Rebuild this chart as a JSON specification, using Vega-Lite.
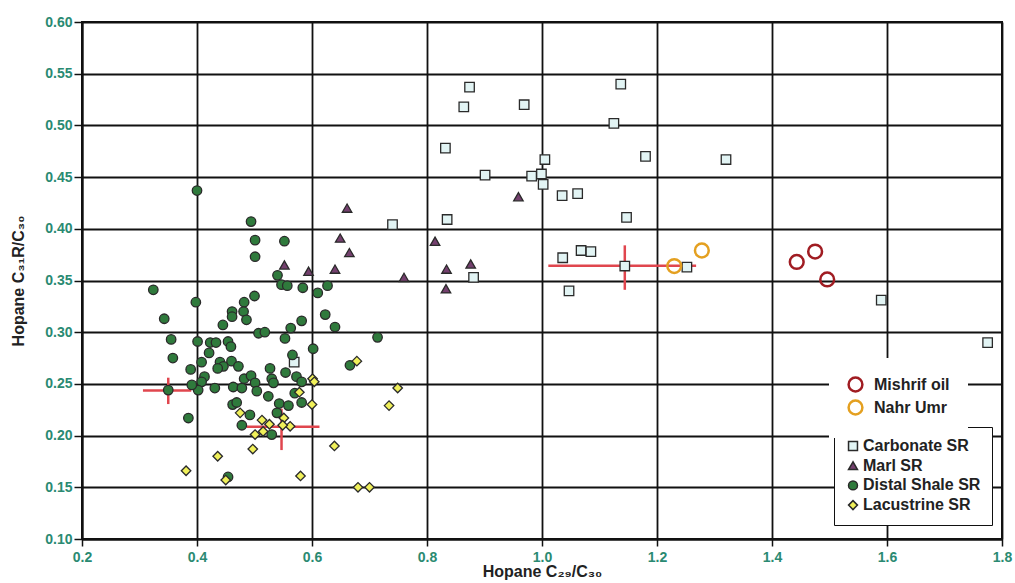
{
  "$schema": "https://vega.github.io/schema/vega-lite/v6.json",
  "width": 920,
  "height": 517,
  "autosize": {"type": "none"},
  "padding": {"left": 82, "top": 22, "right": 13, "bottom": 44},
  "background": "white",
  "config": {
    "font": "Liberation Sans",
    "view": {"stroke": "#111", "strokeWidth": 2},
    "axis": {
      "grid": true,
      "gridColor": "#111",
      "gridWidth": 1.8,
      "gridOpacity": 1,
      "domainColor": "#111",
      "domainWidth": 2,
      "tickColor": "#111",
      "tickWidth": 1.5,
      "labelFont": "Liberation Sans",
      "labelFontWeight": "bold",
      "labelFontSize": 14,
      "labelColor": "#2a8a72",
      "labelFlush": false,
      "titleFont": "Liberation Sans",
      "titleFontSize": 16,
      "titleFontWeight": "bold",
      "titleColor": "#222"
    },
    "axisX": {"tickSize": 7, "labelPadding": 4, "titlePadding": -1},
    "axisY": {"tickSize": 8, "labelPadding": 2, "titlePadding": 18},
    "legend": {
      "labelFont": "Liberation Sans", "labelFontWeight": "bold", "labelFontSize": 16, "labelColor": "#222"
    }
  },
  "datasets": {
    "errs": [
      {"x": 0.306, "x2": 0.390, "y": 0.2436, "y2": 0.2436},
      {"x": 0.350, "x2": 0.350, "y": 0.2305, "y2": 0.256},
      {"x": 0.486, "x2": 0.613, "y": 0.2086, "y2": 0.2086},
      {"x": 0.547, "x2": 0.547, "y": 0.186, "y2": 0.226},
      {"x": 1.011, "x2": 1.268, "y": 0.3643, "y2": 0.3643},
      {"x": 1.144, "x2": 1.144, "y": 0.341, "y2": 0.384}
    ],
    "samples": [
      {"x": 0.874, "y": 0.537, "type": "Carbonate SR"},
      {"x": 0.864, "y": 0.518, "type": "Carbonate SR"},
      {"x": 0.969, "y": 0.520, "type": "Carbonate SR"},
      {"x": 1.137, "y": 0.540, "type": "Carbonate SR"},
      {"x": 1.125, "y": 0.502, "type": "Carbonate SR"},
      {"x": 0.832, "y": 0.478, "type": "Carbonate SR"},
      {"x": 1.005, "y": 0.467, "type": "Carbonate SR"},
      {"x": 1.180, "y": 0.470, "type": "Carbonate SR"},
      {"x": 1.320, "y": 0.467, "type": "Carbonate SR"},
      {"x": 0.901, "y": 0.452, "type": "Carbonate SR"},
      {"x": 0.982, "y": 0.451, "type": "Carbonate SR"},
      {"x": 0.999, "y": 0.453, "type": "Carbonate SR"},
      {"x": 1.002, "y": 0.443, "type": "Carbonate SR"},
      {"x": 1.035, "y": 0.432, "type": "Carbonate SR"},
      {"x": 1.062, "y": 0.434, "type": "Carbonate SR"},
      {"x": 1.147, "y": 0.411, "type": "Carbonate SR"},
      {"x": 0.835, "y": 0.409, "type": "Carbonate SR"},
      {"x": 0.740, "y": 0.404, "type": "Carbonate SR"},
      {"x": 1.036, "y": 0.372, "type": "Carbonate SR"},
      {"x": 1.068, "y": 0.379, "type": "Carbonate SR"},
      {"x": 1.085, "y": 0.378, "type": "Carbonate SR"},
      {"x": 1.144, "y": 0.364, "type": "Carbonate SR"},
      {"x": 1.252, "y": 0.363, "type": "Carbonate SR"},
      {"x": 0.881, "y": 0.353, "type": "Carbonate SR"},
      {"x": 1.047, "y": 0.340, "type": "Carbonate SR"},
      {"x": 0.569, "y": 0.271, "type": "Carbonate SR"},
      {"x": 1.590, "y": 0.331, "type": "Carbonate SR"},
      {"x": 1.775, "y": 0.290, "type": "Carbonate SR"},
      {"x": 0.661, "y": 0.420, "type": "Marl SR"},
      {"x": 0.649, "y": 0.391, "type": "Marl SR"},
      {"x": 0.665, "y": 0.377, "type": "Marl SR"},
      {"x": 0.552, "y": 0.365, "type": "Marl SR"},
      {"x": 0.594, "y": 0.359, "type": "Marl SR"},
      {"x": 0.640, "y": 0.361, "type": "Marl SR"},
      {"x": 0.760, "y": 0.353, "type": "Marl SR"},
      {"x": 0.814, "y": 0.388, "type": "Marl SR"},
      {"x": 0.834, "y": 0.361, "type": "Marl SR"},
      {"x": 0.876, "y": 0.366, "type": "Marl SR"},
      {"x": 0.833, "y": 0.342, "type": "Marl SR"},
      {"x": 0.959, "y": 0.431, "type": "Marl SR"},
      {"x": 0.400, "y": 0.437, "type": "Distal Shale SR"},
      {"x": 0.494, "y": 0.407, "type": "Distal Shale SR"},
      {"x": 0.501, "y": 0.389, "type": "Distal Shale SR"},
      {"x": 0.501, "y": 0.373, "type": "Distal Shale SR"},
      {"x": 0.552, "y": 0.388, "type": "Distal Shale SR"},
      {"x": 0.540, "y": 0.355, "type": "Distal Shale SR"},
      {"x": 0.547, "y": 0.346, "type": "Distal Shale SR"},
      {"x": 0.557, "y": 0.345, "type": "Distal Shale SR"},
      {"x": 0.584, "y": 0.343, "type": "Distal Shale SR"},
      {"x": 0.610, "y": 0.338, "type": "Distal Shale SR"},
      {"x": 0.627, "y": 0.345, "type": "Distal Shale SR"},
      {"x": 0.324, "y": 0.341, "type": "Distal Shale SR"},
      {"x": 0.398, "y": 0.329, "type": "Distal Shale SR"},
      {"x": 0.500, "y": 0.335, "type": "Distal Shale SR"},
      {"x": 0.482, "y": 0.329, "type": "Distal Shale SR"},
      {"x": 0.343, "y": 0.313, "type": "Distal Shale SR"},
      {"x": 0.461, "y": 0.320, "type": "Distal Shale SR"},
      {"x": 0.461, "y": 0.315, "type": "Distal Shale SR"},
      {"x": 0.481, "y": 0.320, "type": "Distal Shale SR"},
      {"x": 0.486, "y": 0.312, "type": "Distal Shale SR"},
      {"x": 0.582, "y": 0.311, "type": "Distal Shale SR"},
      {"x": 0.623, "y": 0.317, "type": "Distal Shale SR"},
      {"x": 0.355, "y": 0.293, "type": "Distal Shale SR"},
      {"x": 0.358, "y": 0.275, "type": "Distal Shale SR"},
      {"x": 0.401, "y": 0.291, "type": "Distal Shale SR"},
      {"x": 0.445, "y": 0.307, "type": "Distal Shale SR"},
      {"x": 0.423, "y": 0.290, "type": "Distal Shale SR"},
      {"x": 0.433, "y": 0.290, "type": "Distal Shale SR"},
      {"x": 0.421, "y": 0.280, "type": "Distal Shale SR"},
      {"x": 0.454, "y": 0.291, "type": "Distal Shale SR"},
      {"x": 0.459, "y": 0.286, "type": "Distal Shale SR"},
      {"x": 0.408, "y": 0.271, "type": "Distal Shale SR"},
      {"x": 0.389, "y": 0.264, "type": "Distal Shale SR"},
      {"x": 0.440, "y": 0.271, "type": "Distal Shale SR"},
      {"x": 0.446, "y": 0.267, "type": "Distal Shale SR"},
      {"x": 0.436, "y": 0.265, "type": "Distal Shale SR"},
      {"x": 0.460, "y": 0.272, "type": "Distal Shale SR"},
      {"x": 0.472, "y": 0.267, "type": "Distal Shale SR"},
      {"x": 0.413, "y": 0.257, "type": "Distal Shale SR"},
      {"x": 0.408, "y": 0.252, "type": "Distal Shale SR"},
      {"x": 0.402, "y": 0.244, "type": "Distal Shale SR"},
      {"x": 0.391, "y": 0.249, "type": "Distal Shale SR"},
      {"x": 0.431, "y": 0.246, "type": "Distal Shale SR"},
      {"x": 0.463, "y": 0.247, "type": "Distal Shale SR"},
      {"x": 0.478, "y": 0.246, "type": "Distal Shale SR"},
      {"x": 0.482, "y": 0.255, "type": "Distal Shale SR"},
      {"x": 0.494, "y": 0.258, "type": "Distal Shale SR"},
      {"x": 0.501, "y": 0.251, "type": "Distal Shale SR"},
      {"x": 0.504, "y": 0.243, "type": "Distal Shale SR"},
      {"x": 0.507, "y": 0.299, "type": "Distal Shale SR"},
      {"x": 0.518, "y": 0.300, "type": "Distal Shale SR"},
      {"x": 0.553, "y": 0.294, "type": "Distal Shale SR"},
      {"x": 0.563, "y": 0.304, "type": "Distal Shale SR"},
      {"x": 0.640, "y": 0.305, "type": "Distal Shale SR"},
      {"x": 0.602, "y": 0.284, "type": "Distal Shale SR"},
      {"x": 0.566, "y": 0.278, "type": "Distal Shale SR"},
      {"x": 0.527, "y": 0.265, "type": "Distal Shale SR"},
      {"x": 0.554, "y": 0.261, "type": "Distal Shale SR"},
      {"x": 0.530, "y": 0.255, "type": "Distal Shale SR"},
      {"x": 0.533, "y": 0.251, "type": "Distal Shale SR"},
      {"x": 0.573, "y": 0.257, "type": "Distal Shale SR"},
      {"x": 0.582, "y": 0.252, "type": "Distal Shale SR"},
      {"x": 0.350, "y": 0.244, "type": "Distal Shale SR"},
      {"x": 0.385, "y": 0.217, "type": "Distal Shale SR"},
      {"x": 0.462, "y": 0.230, "type": "Distal Shale SR"},
      {"x": 0.469, "y": 0.232, "type": "Distal Shale SR"},
      {"x": 0.478, "y": 0.210, "type": "Distal Shale SR"},
      {"x": 0.492, "y": 0.220, "type": "Distal Shale SR"},
      {"x": 0.524, "y": 0.238, "type": "Distal Shale SR"},
      {"x": 0.543, "y": 0.231, "type": "Distal Shale SR"},
      {"x": 0.559, "y": 0.229, "type": "Distal Shale SR"},
      {"x": 0.570, "y": 0.241, "type": "Distal Shale SR"},
      {"x": 0.582, "y": 0.232, "type": "Distal Shale SR"},
      {"x": 0.539, "y": 0.222, "type": "Distal Shale SR"},
      {"x": 0.530, "y": 0.201, "type": "Distal Shale SR"},
      {"x": 0.454, "y": 0.160, "type": "Distal Shale SR"},
      {"x": 0.666, "y": 0.268, "type": "Distal Shale SR"},
      {"x": 0.714, "y": 0.295, "type": "Distal Shale SR"},
      {"x": 0.678, "y": 0.272, "type": "Lacustrine SR"},
      {"x": 0.601, "y": 0.255, "type": "Lacustrine SR"},
      {"x": 0.604, "y": 0.252, "type": "Lacustrine SR"},
      {"x": 0.578, "y": 0.242, "type": "Lacustrine SR"},
      {"x": 0.600, "y": 0.230, "type": "Lacustrine SR"},
      {"x": 0.749, "y": 0.246, "type": "Lacustrine SR"},
      {"x": 0.734, "y": 0.229, "type": "Lacustrine SR"},
      {"x": 0.475, "y": 0.222, "type": "Lacustrine SR"},
      {"x": 0.513, "y": 0.215, "type": "Lacustrine SR"},
      {"x": 0.526, "y": 0.211, "type": "Lacustrine SR"},
      {"x": 0.515, "y": 0.204, "type": "Lacustrine SR"},
      {"x": 0.501, "y": 0.201, "type": "Lacustrine SR"},
      {"x": 0.551, "y": 0.217, "type": "Lacustrine SR"},
      {"x": 0.562, "y": 0.209, "type": "Lacustrine SR"},
      {"x": 0.549, "y": 0.210, "type": "Lacustrine SR"},
      {"x": 0.497, "y": 0.187, "type": "Lacustrine SR"},
      {"x": 0.639, "y": 0.190, "type": "Lacustrine SR"},
      {"x": 0.436, "y": 0.180, "type": "Lacustrine SR"},
      {"x": 0.381, "y": 0.166, "type": "Lacustrine SR"},
      {"x": 0.450, "y": 0.157, "type": "Lacustrine SR"},
      {"x": 0.580, "y": 0.161, "type": "Lacustrine SR"},
      {"x": 0.680, "y": 0.150, "type": "Lacustrine SR"},
      {"x": 0.700, "y": 0.150, "type": "Lacustrine SR"}
    ],
    "oils": [
      {"x": 1.443, "y": 0.368, "oil": "Mishrif oil"},
      {"x": 1.475, "y": 0.378, "oil": "Mishrif oil"},
      {"x": 1.496, "y": 0.351, "oil": "Mishrif oil"},
      {"x": 1.230, "y": 0.364, "oil": "Nahr Umr"},
      {"x": 1.278, "y": 0.379, "oil": "Nahr Umr"}
    ]
  },
  "layer": [
    {
      "data": {"name": "errs"},
      "mark": {"type": "rule", "color": "#e0464e", "strokeWidth": 2.5},
      "encoding": {
        "x": {
          "field": "x", "type": "quantitative",
          "scale": {"domain": [0.2, 1.8], "nice": false, "zero": false},
          "axis": {"title": "Hopane C₂₉/C₃₀", "values": [0.2, 0.4, 0.6, 0.8, 1.0, 1.2, 1.4, 1.6, 1.8], "format": ".1f"}
        },
        "x2": {"field": "x2"},
        "y": {
          "field": "y", "type": "quantitative",
          "scale": {"domain": [0.1, 0.6], "nice": false, "zero": false},
          "axis": {"title": "Hopane C₃₁R/C₃₀", "values": [0.1, 0.15, 0.2, 0.25, 0.3, 0.35, 0.4, 0.45, 0.5, 0.55, 0.6], "format": ".2f"}
        },
        "y2": {"field": "y2"}
      }
    },
    {
      "data": {"name": "samples"},
      "mark": {"type": "point", "filled": true, "opacity": 1, "stroke": "#2a2a2a", "strokeWidth": 1.3, "size": 90},
      "encoding": {
        "x": {"field": "x", "type": "quantitative", "title": "Hopane C₂₉/C₃₀"},
        "y": {"field": "y", "type": "quantitative", "title": "Hopane C₃₁R/C₃₀"},
        "shape": {
          "field": "type", "type": "nominal",
          "scale": {"domain": ["Carbonate SR", "Marl SR", "Distal Shale SR", "Lacustrine SR"], "range": ["square", "triangle-up", "circle", "diamond"]},
          "legend": {
            "orient": "none", "legendX": 752, "legendY": 405, "title": null,
            "padding": 11, "strokeColor": "#111", "fillColor": "white",
            "labelOffset": 2, "symbolSize": 80, "rowPadding": 3.7,
            "encode": {"symbols": {"update": {"stroke": {"value": "#2a2a2a"}, "strokeWidth": {"value": 1.3}}}}
          }
        },
        "fill": {
          "field": "type", "type": "nominal",
          "scale": {"domain": ["Carbonate SR", "Marl SR", "Distal Shale SR", "Lacustrine SR"], "range": ["#e2f4f4", "#74406e", "#2f7a3c", "#f0f05a"]},
          "legend": {
            "orient": "none", "legendX": 752, "legendY": 405, "title": null,
            "padding": 11, "strokeColor": "#111", "fillColor": "white",
            "labelOffset": 2, "symbolSize": 80, "rowPadding": 3.7,
            "encode": {"symbols": {"update": {"stroke": {"value": "#2a2a2a"}, "strokeWidth": {"value": 1.3}}}}
          }
        }
      }
    },
    {
      "data": {"name": "oils"},
      "mark": {"type": "point", "shape": "circle", "filled": false, "opacity": 1, "size": 190, "strokeWidth": 2.5},
      "encoding": {
        "x": {"field": "x", "type": "quantitative", "title": "Hopane C₂₉/C₃₀"},
        "y": {"field": "y", "type": "quantitative", "title": "Hopane C₃₁R/C₃₀"},
        "stroke": {
          "field": "oil", "type": "nominal",
          "scale": {"domain": ["Mishrif oil", "Nahr Umr"], "range": ["#a01c22", "#e4a020"]},
          "legend": {
            "orient": "none", "legendX": 747, "legendY": 336, "title": null,
            "padding": 18, "fillColor": "white",
            "labelOffset": 10, "symbolSize": 190, "symbolType": "circle", "symbolStrokeWidth": 2.5,
            "symbolFillColor": "transparent", "rowPadding": -2
          }
        }
      }
    }
  ]
}
